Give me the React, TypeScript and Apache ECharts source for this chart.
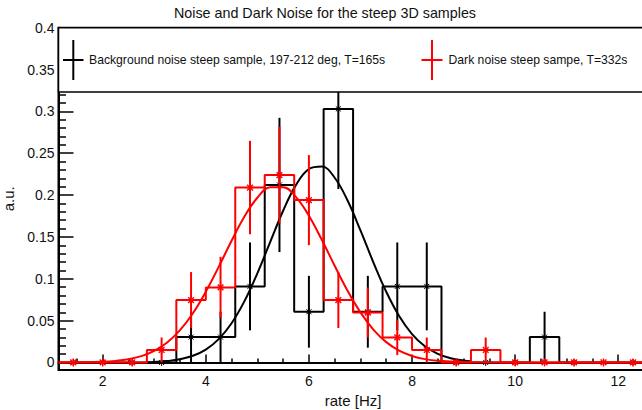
import React, { useEffect, useRef } from "react";
import * as echarts from "echarts";

// ---- data ----
const binCenters = [1.429, 2.0, 2.571, 3.143, 3.714, 4.286, 4.857, 5.429, 6.0, 6.571, 7.143, 7.714, 8.286, 8.857, 9.429, 10.0, 10.571, 11.143, 11.714, 12.286];
const binHalfWidth = 0.2857;

const blackValues = [0, 0, 0, 0, 0.0303, 0.0303, 0.0909, 0.2121, 0.0606, 0.303, 0.0606, 0.0909, 0.0909, 0, 0, 0, 0.0303, 0, 0, 0];
const blackErrors = [0, 0, 0, 0, 0.0303, 0.0303, 0.0525, 0.0802, 0.0429, 0.0958, 0.0429, 0.0525, 0.0525, 0, 0, 0, 0.0303, 0, 0, 0];
const redValues = [0, 0, 0, 0.0149, 0.0746, 0.0896, 0.209, 0.2239, 0.194, 0.0746, 0.0597, 0.0299, 0.0149, 0, 0.0149, 0, 0, 0, 0, 0];
const redErrors = [0, 0, 0, 0.0149, 0.0334, 0.0366, 0.0558, 0.0578, 0.0538, 0.0334, 0.0299, 0.0211, 0.0149, 0, 0.0149, 0, 0, 0, 0, 0];

const blackFitX = [2.857, 3.0, 3.25, 3.5, 3.75, 4.0, 4.25, 4.5, 4.75, 5.0, 5.25, 5.5, 5.75, 6.0, 6.25, 6.5, 6.75, 7.0, 7.25, 7.5, 7.75, 8.0, 8.25, 8.5, 8.75, 9.0, 9.143];
const blackFitY = [0.0004, 0.0007, 0.0017, 0.0038, 0.008, 0.0154, 0.0279, 0.0469, 0.0733, 0.1065, 0.1441, 0.1813, 0.2122, 0.2311, 0.2341, 0.2207, 0.1935, 0.1578, 0.1197, 0.0845, 0.0555, 0.0339, 0.0193, 0.0102, 0.005, 0.0023, 0.0014];

const redFitX = [1.143, 1.5, 2.0, 2.25, 2.5, 2.75, 3.0, 3.25, 3.5, 3.75, 4.0, 4.25, 4.5, 4.75, 5.0, 5.25, 5.5, 5.75, 6.0, 6.25, 6.5, 6.75, 7.0, 7.25, 7.5, 7.75, 8.0, 8.25, 8.5, 9.0, 9.5, 10.0, 11.0, 12.0, 12.571];
const redFitY = [0, 0.0002, 0.0009, 0.0019, 0.0039, 0.0076, 0.0139, 0.0238, 0.0386, 0.0588, 0.0845, 0.1142, 0.1454, 0.1744, 0.1968, 0.2093, 0.2095, 0.1976, 0.1754, 0.1466, 0.1155, 0.0856, 0.0598, 0.0393, 0.0243, 0.0142, 0.0078, 0.004, 0.002, 0.0004, 0.0001, 0, 0, 0, 0];

const xMin = 1.1429;
const xMax = 12.5714;
const yMin = -0.009;
const yMax = 0.4;
const xMajorTicks = [2, 4, 6, 8, 10, 12];
const xMinorTicks = [1.5, 2.5, 3, 3.5, 4.5, 5, 5.5, 6.5, 7, 7.5, 8.5, 9, 9.5, 10.5, 11, 11.5, 12.5];
const yTickValues = [0, 0.05, 0.1, 0.15, 0.2, 0.25, 0.3, 0.35, 0.4];
const yTickLabels = ["0", "0.05", "0.1", "0.15", "0.2", "0.25", "0.3", "0.35", "0.4"];
const yMinorTicks = [0.01, 0.02, 0.03, 0.04, 0.06, 0.07, 0.08, 0.09, 0.11, 0.12, 0.13, 0.14, 0.16, 0.17, 0.18, 0.19, 0.21, 0.22, 0.23, 0.24, 0.26, 0.27, 0.28, 0.29, 0.31, 0.32];

const titleText = "Noise and Dark Noise for the steep 3D samples";
const blackLabel = "Background noise steep sample, 197-212 deg, T=165s";
const redLabel = "Dark noise steep sampe, T=332s";

const FONT = "'Liberation Sans', Arial, Helvetica, sans-serif";

function histOutline(values: number[]) {
  const pts: number[][] = [];
  values.forEach((v, i) => {
    pts.push([binCenters[i] - binHalfWidth, v]);
    pts.push([binCenters[i] + binHalfWidth, v]);
  });
  return pts;
}

function errorSeries(values: number[], errors: number[], color: string, r: number, lw: number) {
  return {
    type: "custom",
    data: values.map((v, i) => [binCenters[i], v, errors[i]]),
    renderItem: (_p: any, api: any) => {
      const x = api.value(0);
      const y = api.value(1);
      const e = api.value(2);
      const c = api.coord([x, y]);
      const children: any[] = [];
      const st = { stroke: color, lineWidth: 2 };
      if (e > 0) {
        const lo = api.coord([x, y - e]);
        const hi = api.coord([x, y + e]);
        children.push({ type: "line", shape: { x1: c[0], y1: lo[1], x2: c[0], y2: hi[1] }, style: st });
      }
      const d = r * 0.72;
      const ms = { stroke: color, lineWidth: lw };
      children.push({ type: "line", shape: { x1: c[0] - r, y1: c[1], x2: c[0] + r, y2: c[1] }, style: ms });
      children.push({ type: "line", shape: { x1: c[0], y1: c[1] - r, x2: c[0], y2: c[1] + r }, style: ms });
      children.push({ type: "line", shape: { x1: c[0] - d, y1: c[1] - d, x2: c[0] + d, y2: c[1] + d }, style: ms });
      children.push({ type: "line", shape: { x1: c[0] - d, y1: c[1] + d, x2: c[0] + d, y2: c[1] - d }, style: ms });
      return { type: "group", children };
    },
    z: 3,
  };
}

export default function App() {
  const ref = useRef<HTMLDivElement>(null);
  useEffect(() => {
    if (!ref.current) return;
    const chart = echarts.init(ref.current, null, { renderer: "svg" });
    const axisFont = { fontSize: 14, color: "#111", fontFamily: FONT };
    const option: any = {
      animation: false,
      grid: {
        left: 58.5,
        top: 27.7,
        width: 589.2,
        height: 342.3,
        show: true,
        borderColor: "#000",
        borderWidth: 2,
        backgroundColor: "transparent",
        containLabel: false,
        outerBoundsMode: "none",
      },
      xAxis: [
        {
          type: "value",
          min: xMin,
          max: xMax,
          position: "bottom",
          axisLine: { show: true, lineStyle: { color: "#000", width: 2 } },
          axisTick: { show: true, inside: true, length: 8, customValues: xMajorTicks, lineStyle: { color: "#000", width: 1.5 } },
          axisLabel: { customValues: xMajorTicks, margin: 4, ...axisFont },
          splitLine: { show: false },
          name: "rate [Hz]",
          nameLocation: "middle",
          nameGap: 22,
          nameTextStyle: { fontSize: 15, color: "#111", fontFamily: FONT },
        },
        {
          type: "value",
          min: xMin,
          max: xMax,
          position: "bottom",
          axisLine: { show: false },
          axisTick: { show: true, inside: true, length: 4, customValues: xMinorTicks, lineStyle: { color: "#000", width: 1.5 } },
          axisLabel: { show: false },
          splitLine: { show: false },
        },
      ],
      yAxis: [
        {
          type: "value",
          min: yMin,
          max: yMax,
          position: "left",
          axisLine: { show: true, lineStyle: { color: "#000", width: 2 } },
          axisTick: { show: true, inside: true, length: 15, customValues: yTickValues, lineStyle: { color: "#000", width: 1.5 } },
          axisLabel: {
            customValues: yTickValues,
            margin: 4,
            formatter: (v: number) => {
              const i = yTickValues.indexOf(v);
              return i >= 0 ? yTickLabels[i] : String(v);
            },
            ...axisFont,
          },
          splitLine: { show: false },
          name: "a.u.",
          nameLocation: "middle",
          nameRotate: 90,
          nameGap: 35,
          nameTextStyle: { fontSize: 15, color: "#111", fontFamily: FONT },
        },
        {
          type: "value",
          min: yMin,
          max: yMax,
          position: "left",
          axisLine: { show: false },
          axisTick: { show: true, inside: true, length: 7.5, customValues: yMinorTicks, lineStyle: { color: "#000", width: 1.5 } },
          axisLabel: { show: false },
          splitLine: { show: false },
        },
      ],
      series: [
        {
          type: "line",
          data: histOutline(blackValues),
          showSymbol: false,
          lineStyle: { color: "#000", width: 2 },
          z: 2,
        },
        { ...errorSeries(blackValues, blackErrors, "#000", 3.5, 1) },
        {
          type: "line",
          data: blackFitX.map((x, i) => [x, blackFitY[i]]),
          smooth: 0.4,
          showSymbol: false,
          lineStyle: { color: "#000", width: 2 },
          z: 3,
        },
        {
          type: "line",
          data: histOutline(redValues),
          showSymbol: false,
          lineStyle: { color: "#ff0000", width: 2 },
          z: 4,
        },
        { ...errorSeries(redValues, redErrors, "#ff0000", 4, 1.4), z: 5 },
        {
          type: "line",
          data: redFitX.map((x, i) => [x, redFitY[i]]),
          smooth: 0.4,
          showSymbol: false,
          lineStyle: { color: "#ff0000", width: 2 },
          z: 5,
        },
      ],
      graphic: [
        {
          type: "rect",
          z: 100,
          shape: { x: 58.5, y: 27.7, width: 600, height: 64.3 },
          style: { fill: "#fff", stroke: "#000", lineWidth: 1.5 },
        },
        { type: "line", z: 101, shape: { x1: 73.3, y1: 40, x2: 73.3, y2: 80 }, style: { stroke: "#000", lineWidth: 2 } },
        { type: "line", z: 101, shape: { x1: 63, y1: 60, x2: 83.5, y2: 60 }, style: { stroke: "#000", lineWidth: 2 } },
        {
          type: "text",
          z: 101,
          x: 89,
          y: 60,
          style: { text: blackLabel, fontSize: 12.2, fontFamily: FONT, fill: "#111", align: "left", verticalAlign: "middle" },
        },
        { type: "line", z: 101, shape: { x1: 432, y1: 40, x2: 432, y2: 80 }, style: { stroke: "#ff0000", lineWidth: 2 } },
        { type: "line", z: 101, shape: { x1: 421.5, y1: 60, x2: 442.5, y2: 60 }, style: { stroke: "#ff0000", lineWidth: 2 } },
        {
          type: "text",
          z: 101,
          x: 448.5,
          y: 60,
          style: { text: redLabel, fontSize: 12.2, fontFamily: FONT, fill: "#111", align: "left", verticalAlign: "middle" },
        },
        {
          type: "text",
          z: 101,
          x: 325,
          y: 13,
          style: { text: titleText, fontSize: 14.3, fontFamily: FONT, fill: "#111", align: "center", verticalAlign: "middle" },
        },
      ],
    };
    chart.setOption(option);
    return () => chart.dispose();
  }, []);
  return <div ref={ref} style={{ position: "absolute", left: 0, top: 0, width: 642, height: 410 }} />;
}
